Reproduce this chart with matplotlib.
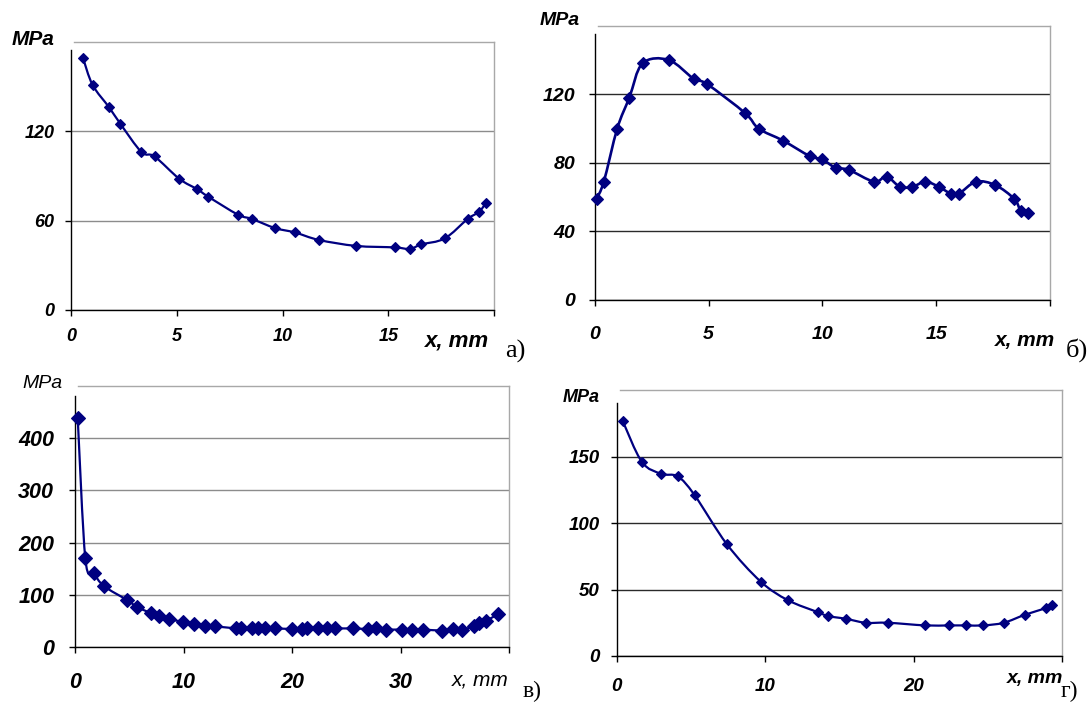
import numpy as np
import matplotlib
matplotlib.use("Agg")
import matplotlib.pyplot as plt
from matplotlib.path import Path
from matplotlib.patches import PathPatch

W, H = 1091, 703

# panel а)
xa = [0.57, 1.02, 1.80, 2.33, 3.33, 3.95, 5.12, 5.97, 6.49, 7.89, 8.57,
      9.64, 10.59, 11.72, 13.48, 15.30, 16.02, 16.57, 17.67, 18.75, 19.30, 19.63]
ya = [169, 151, 136, 125, 106, 103, 88, 81, 76, 64, 61,
      55, 52, 47, 43, 42, 41, 44, 48, 61, 66, 72]

# panel б)
xb = [0.08, 0.40, 0.99, 1.52, 2.10, 3.25, 4.35, 4.93, 6.61, 7.20, 8.27,
      9.44, 10.00, 10.59, 11.15, 12.27, 12.82, 13.41, 13.95, 14.53, 15.12,
      15.65, 16.00, 16.75, 17.60, 18.43, 18.72, 19.04]
yb = [59, 69, 100, 118, 138, 140, 129, 126, 109, 100, 93,
      84, 82, 77, 76, 69, 72, 66, 66, 69, 66,
      62, 62, 69, 67, 59, 52, 51]

# panel в)
xc = [0.25, 0.95, 1.72, 2.67, 4.83, 5.72, 7.05, 7.75, 8.64, 9.91, 10.93,
      11.95, 12.93, 14.87, 15.32, 16.27, 16.84, 17.54, 18.43, 20.02, 20.91,
      21.42, 22.37, 23.26, 23.99, 25.64, 27.00, 27.71, 28.70, 30.10, 31.10,
      32.10, 33.85, 34.86, 35.65, 36.80, 37.20, 37.90, 38.95]
yc = [438, 170, 142, 117, 90, 77, 65, 60, 54, 49, 45,
      41, 40, 36, 36, 36, 36, 36, 36, 35, 35,
      36, 36, 36, 36, 36, 35, 36, 34, 34, 34,
      34, 32, 35, 34, 40, 47, 51, 63]

# panel г)
xd = [0.40, 1.70, 3.00, 4.12, 5.25, 7.43, 9.70, 11.53, 13.54, 14.25, 15.43,
      16.78, 18.27, 20.78, 22.37, 23.55, 24.71, 26.08, 27.50, 28.92, 29.33]
yd = [177, 146, 137, 135, 121, 84, 56, 42, 33, 30, 28,
      25, 25, 23, 23, 23, 23, 25, 31, 36, 38]

NAVY = "#000080"
SANS = "Liberation Sans"


def smooth_path(x, y):
    # Excel-style smoothed line: cubic Bezier segments through the points
    pts = np.column_stack([x, y]).astype(float)
    n = len(pts)
    verts = [pts[0]]
    codes = [Path.MOVETO]
    for i in range(n - 1):
        p0 = pts[max(i - 1, 0)]
        p1 = pts[i]
        p2 = pts[i + 1]
        p3 = pts[min(i + 2, n - 1)]
        verts += [p1 + (p2 - p0) / 6, p2 - (p3 - p1) / 6, p2]
        codes += [Path.CURVE4] * 3
    return Path(verts, codes)


def fig_pos(left, top, right, bottom):
    return [left / W, 1 - bottom / H, (right - left) / W, (bottom - top) / H]


def draw_panel(ax, x, y, xmax, xstep, ymax, ystep, grid_color, tick_fs,
               xpad, ypad, ms, spine_gap, lw=1.6):
    ax.add_patch(PathPatch(smooth_path(x, y), facecolor="none",
                           edgecolor=NAVY, lw=lw, transform=ax.transData))
    ax.plot(x, y, ls="none", marker="D", ms=ms, color=NAVY, mec=NAVY,
            mew=0.8, clip_on=False, zorder=3)
    ax.set_xlim(0, xmax)
    ax.set_ylim(0, ymax)

    ax.tick_params(axis="x", direction="out", length=4, width=1, pad=xpad,
                   color="black", labelsize=tick_fs)
    ax.tick_params(axis="y", direction="out", length=4, width=1, pad=ypad,
                   color="black", labelsize=tick_fs)

    font = dict(fontsize=tick_fs, fontweight="bold", fontstyle="italic",
                family=SANS)
    xt = np.arange(0, xmax + 1, xstep)
    yt = np.arange(0, ymax, ystep)   # top gridline is the frame itself
    ax.set_xticks(xt, labels=[str(v) for v in xt[:-1]] + [""], **font)
    ax.set_yticks(yt, labels=[str(v) for v in yt], **font)

    ax.yaxis.grid(True, color=grid_color, lw=1)
    ax.set_axisbelow(True)

    for s in ["left", "bottom"]:
        ax.spines[s].set_color("black")
        ax.spines[s].set_linewidth(1)
    for s in ["top", "right"]:
        ax.spines[s].set_color("#a8a8a8")
        ax.spines[s].set_linewidth(1)
    ax.spines["left"].set_bounds(0, ymax * (1 - spine_gap))
    ax.spines["top"].set_bounds(xmax * 0.008, xmax)


def put_text(px, py, s, size, weight="bold", style="italic", family=SANS):
    fig.text(px / W, 1 - py / H, s, fontsize=size, fontweight=weight,
             fontstyle=style, family=family, ha="left", va="baseline")


fig = plt.figure(figsize=(W / 100, H / 100), dpi=100)

ax_a = fig.add_axes(fig_pos(71, 41.7, 494, 310))
draw_panel(ax_a, xa, ya, 20, 5, 180, 60, "#8c8c8c", 13, 9, 8, 5.6, 0.03)

ax_b = fig.add_axes(fig_pos(594.7, 25.7, 1050, 300))
draw_panel(ax_b, xb, yb, 20, 5, 160, 40, "#2a2a2a", 14, 15, 10, 6.6, 0.03,
           lw=1.9)

ax_c = fig.add_axes(fig_pos(75, 385.7, 509, 647.3))
draw_panel(ax_c, xc, yc, 40, 10, 500, 100, "#8c8c8c", 15.5, 14, 11, 7.4, 0.04)

ax_d = fig.add_axes(fig_pos(616.6, 390, 1062, 656))
draw_panel(ax_d, xd, yd, 30, 10, 200, 50, "#2a2a2a", 13.5, 12, 8, 5.6, 0.05)

# axis captions
put_text(12, 45, "MPa", 15)
put_text(540, 25, "MPa", 14)
put_text(22, 388, "MPa", 14, weight="normal")
put_text(563, 401.5, "MPa", 13)

put_text(425, 346.5, "x, mm", 16)
put_text(995, 346, "x, mm", 15)
put_text(451.5, 685, "x, mm", 15, weight="normal")
put_text(1006.5, 683, "x, mm", 14)

# panel letters
serif = "Liberation Serif"
put_text(505, 358, "а)", 19, weight="normal", style="normal", family=serif)
put_text(1066, 356.5, "б)", 19, weight="normal", style="normal", family=serif)
put_text(523, 697, "в)", 17, weight="normal", style="normal", family=serif)
put_text(1061, 697, "г)", 17, weight="normal", style="normal", family=serif)

fig.savefig("out.png", dpi=100)
